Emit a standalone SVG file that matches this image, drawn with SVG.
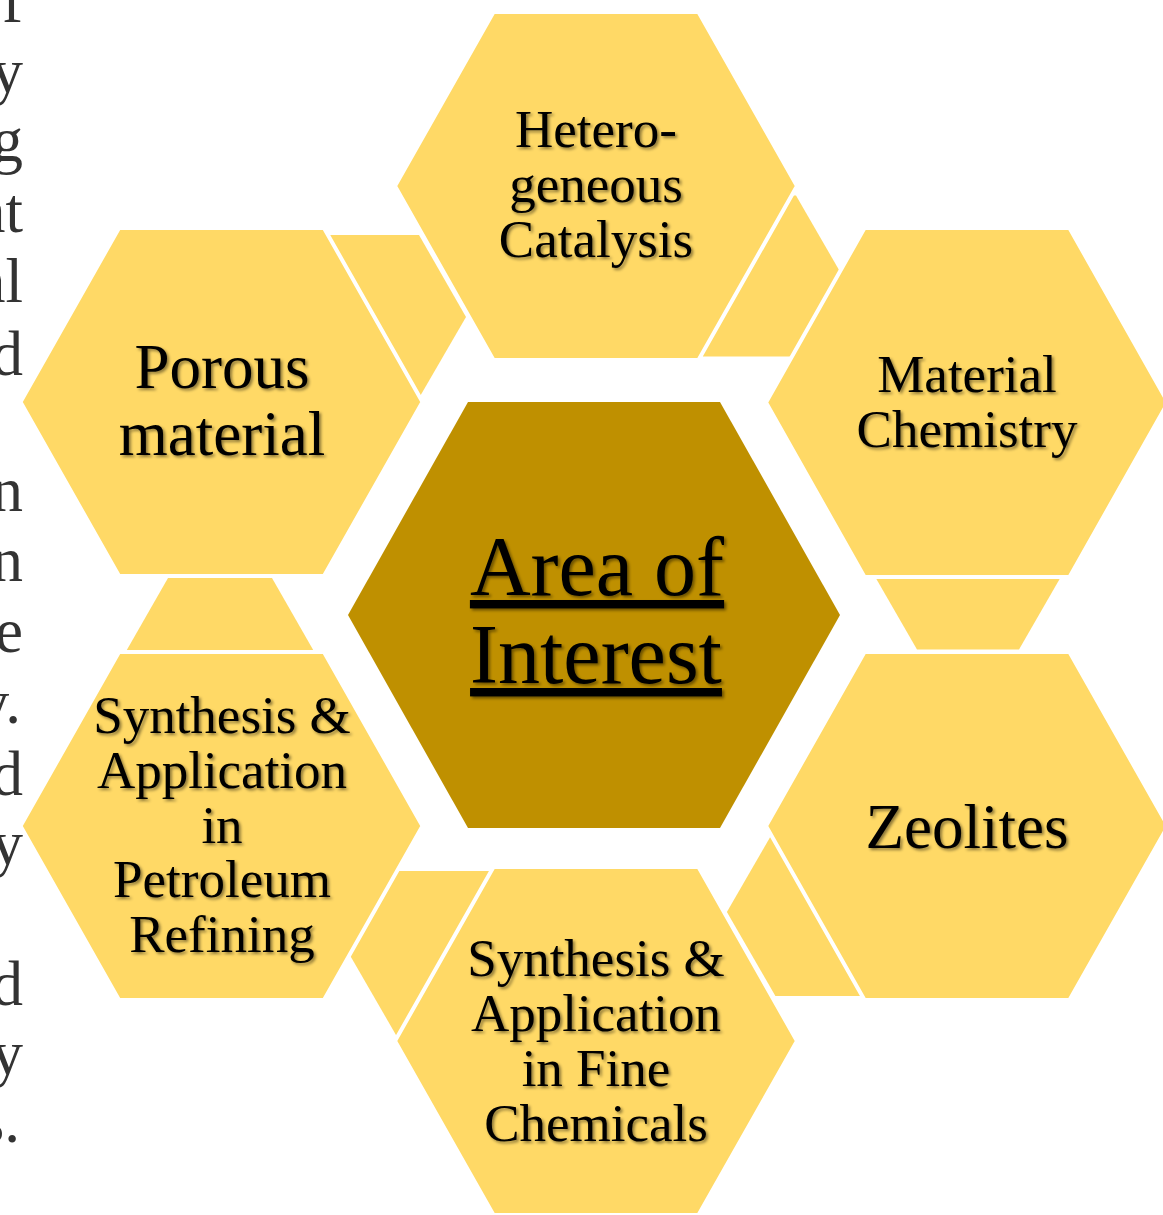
<svg xmlns="http://www.w3.org/2000/svg" width="1163" height="1215" viewBox="0 0 1163 1215">
<defs>
<style>
.outer{fill:#FFD966;stroke:#FFFFFF;stroke-width:4;stroke-linejoin:miter}
.conn{fill:#FFD966}
.core{fill:#BF9000}
.lbl{font-family:"Liberation Serif","Times New Roman",serif;fill:#000;text-anchor:middle;filter:url(#sh)}
.frag{font-family:"Liberation Serif","Times New Roman",serif;font-size:63px;fill:#333333;text-anchor:end}
</style>
<filter id="sh" x="-10%" y="-20%" width="120%" height="140%">
<feDropShadow dx="2" dy="2" stdDeviation="1.5" flood-color="#000" flood-opacity="0.45"/>
</filter>
</defs>
<rect width="1163" height="1215" fill="#FFFFFF"/>
<g id="page-text">
<text class="frag" x="23" y="22">of</text>
<text class="frag" x="23" y="92">y</text>
<text class="frag" x="23" y="161">g</text>
<text class="frag" x="23" y="232">nt</text>
<text class="frag" x="23" y="302">al</text>
<text class="frag" x="23" y="375">d</text>
<text class="frag" x="23" y="511">n</text>
<text class="frag" x="23" y="581">n</text>
<text class="frag" x="23" y="652">e</text>
<text class="frag" x="21" y="723">y.</text>
<text class="frag" x="23" y="795">d</text>
<text class="frag" x="23" y="864">y</text>
<text class="frag" x="23" y="1005">d</text>
<text class="frag" x="23" y="1074">y</text>
<text class="frag" x="20" y="1142">s.</text>
</g>
<g id="connectors">
<polygon class="conn" points="466,317 419,398 325,398 278,317 325,235 419,235"/>
<polygon class="conn" points="842.5,276 796,356.5 703,356.5 656.5,276 703,195.5 796,195.5"/>
<polygon class="conn" points="1070,561 1019,649.5 917,649.5 866,561 917,473 1019,473"/>
<polygon class="conn" points="920.9,912 872.4,996 775.4,996 726.9,912 775.4,828 872.4,828"/>
<polygon class="conn" points="543.8,955 495.3,1039 398.3,1039 349.8,955 398.3,871 495.3,871"/>
<polygon class="conn" points="323.5,668 272,578 168,578 116.5,668 168,757 272,757"/>
</g>
<g id="node-catalysis">
<polygon class="outer" points="395,186 493.5,12 698.5,12 797,186 698.5,360 493.5,360"/>
<text class="lbl" font-size="53" x="596" y="147">Hetero-</text>
<text class="lbl" font-size="53" x="596" y="202">geneous</text>
<text class="lbl" font-size="53" x="596" y="257">Catalysis</text>
</g>
<g id="node-porous">
<polygon class="outer" points="20.5,402 119,228 324,228 422.5,402 324,576 119,576"/>
<text class="lbl" font-size="63" x="222" y="388">Porous</text>
<text class="lbl" font-size="63" x="222" y="455">material</text>
</g>
<g id="node-material">
<polygon class="outer" points="766,402.5 864.5,228 1069.5,228 1168,402.5 1069.5,577 864.5,577"/>
<text class="lbl" font-size="53" x="967" y="392">Material</text>
<text class="lbl" font-size="53" x="967" y="447">Chemistry</text>
</g>
<g id="node-zeolites">
<polygon class="outer" points="766,826 864.5,652 1069.5,652 1168,826 1069.5,1000 864.5,1000"/>
<text class="lbl" font-size="63" x="967" y="848">Zeolites</text>
</g>
<g id="node-fine">
<polygon class="outer" points="395,1041 493.5,867 698.5,867 797,1041 698.5,1215 493.5,1215"/>
<text class="lbl" font-size="53" x="596" y="976">Synthesis &amp;</text>
<text class="lbl" font-size="53" x="596" y="1031">Application</text>
<text class="lbl" font-size="53" x="596" y="1086">in Fine</text>
<text class="lbl" font-size="53" x="596" y="1141">Chemicals</text>
</g>
<g id="node-petroleum">
<polygon class="outer" points="20.5,826 119,652 324,652 422.5,826 324,1000 119,1000"/>
<text class="lbl" font-size="53" x="222" y="733">Synthesis &amp;</text>
<text class="lbl" font-size="53" x="222" y="788">Application</text>
<text class="lbl" font-size="53" x="222" y="843">in</text>
<text class="lbl" font-size="53" x="222" y="897">Petroleum</text>
<text class="lbl" font-size="53" x="222" y="952">Refining</text>
</g>
<g id="node-center">
<polygon class="core" points="348,615 468,402 720,402 840,615 720,828 468,828"/>
<text class="lbl" font-size="84" x="597" y="595" text-decoration="underline">Area of</text>
<text class="lbl" font-size="84" x="596" y="683" text-decoration="underline">Interest</text>
</g>
</svg>
